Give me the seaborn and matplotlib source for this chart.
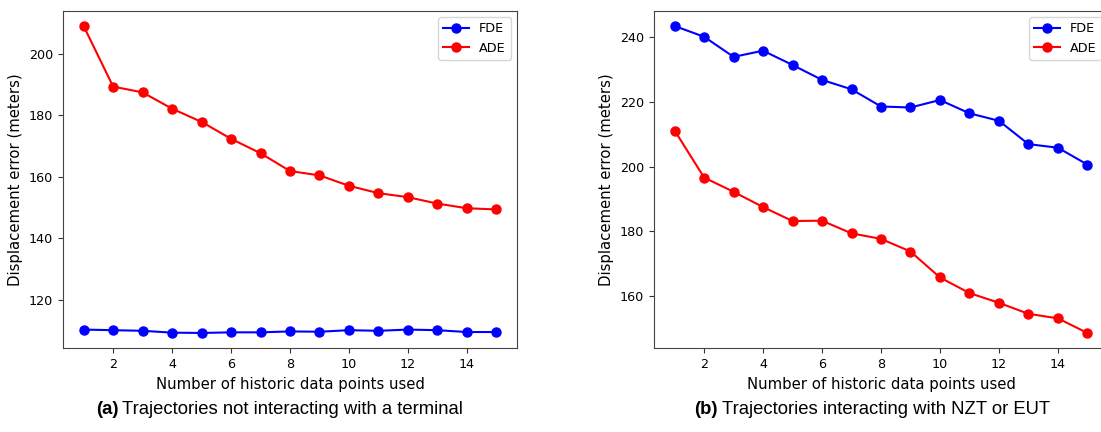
import matplotlib
matplotlib.use("Agg")
import matplotlib.pyplot as plt
import seaborn as sns
import pandas as pd

steps = list(range(1, 16))

# Panel (a): trajectories not interacting with a terminal
fde_a = [110.3, 110.1, 109.9, 109.3, 109.2, 109.4, 109.4, 109.7, 109.6, 110.1,
         109.9, 110.3, 110.1, 109.5, 109.5]
ade_a = [209.1, 189.4, 187.5, 182.2, 177.9, 172.4, 167.7, 161.9, 160.5, 157.1,
         154.7, 153.4, 151.3, 149.8, 149.4]

# Panel (b): trajectories interacting with NZT or EUT
fde_b = [243.3, 240.0, 233.8, 235.7, 231.3, 226.7, 223.8, 218.5, 218.2, 220.5,
         216.4, 214.1, 206.9, 205.8, 200.6]
ade_b = [211.1, 196.6, 192.2, 187.5, 183.2, 183.3, 179.4, 177.7, 173.8, 165.8,
         161.0, 158.0, 154.6, 153.2, 148.7]

x_ticks = [2, 4, 6, 8, 10, 12, 14]
x_label = "Number of historic data points used"
y_label = "Displacement error (meters)"
captions = [("(a)", "Trajectories not interacting with a terminal"),
            ("(b)", "Trajectories interacting with NZT or EUT")]

fig = plt.figure(figsize=(11.01, 4.32), dpi=100)
ax_a = fig.add_axes([63 / 1101, 83.7 / 432, 454 / 1101, 337.6 / 432])
ax_b = fig.add_axes([654 / 1101, 83.7 / 432, 454 / 1101, 337.6 / 432])

panels = [(ax_a, fde_a, ade_a), (ax_b, fde_b, ade_b)]
for ax, fde, ade in panels:
    df = pd.DataFrame({"step": steps, "FDE": fde, "ADE": ade})
    for name, color in [("FDE", "blue"), ("ADE", "red")]:
        sns.lineplot(data=df, x="step", y=name, ax=ax, color=color, label=name,
                     marker="o", markersize=6.5, markeredgecolor=color,
                     markeredgewidth=1, linewidth=1.5)
    ax.set_xticks(x_ticks)
    ax.tick_params(labelsize=9.2, length=3.5, color="#333333")
    ax.set_xlabel(x_label, fontsize=10.7)
    ax.set_ylabel(y_label, fontsize=10.7)
    for sp in ax.spines.values():
        sp.set_color("#444444")
    ax.legend(loc="upper right", fontsize=9.2, framealpha=0.8,
              edgecolor="#cccccc", handlelength=2.0)

# Captions: bold panel tag followed by regular text
for (tag, text), xl in zip(captions, [96 / 1101, 694 / 1101]):
    t1 = fig.text(xl, 22 / 432, tag, fontsize=13.3, fontweight="bold",
                  family="Liberation Sans", ha="left", va="center")
    fig.canvas.draw()
    bb = t1.get_window_extent()
    fig.text((bb.x1 + 4) / 1101, 22 / 432, text, fontsize=13.3,
             family="Liberation Sans", ha="left", va="center")

fig.savefig("out.png", dpi=100)
